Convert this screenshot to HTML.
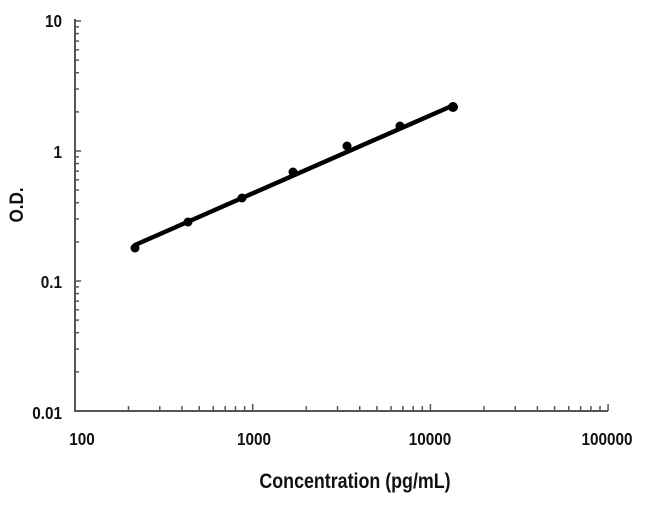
<!DOCTYPE html>
<html><head><meta charset="utf-8"><style>
html,body{margin:0;padding:0;background:#fff;width:650px;height:507px;overflow:hidden}
text{font-family:"Liberation Sans",Arial,sans-serif;font-weight:bold;fill:#111}
</style></head><body>
<svg id="s" width="650" height="507" viewBox="0 0 650 507" xmlns="http://www.w3.org/2000/svg">
<g stroke="#555" stroke-width="2" fill="none" id="ax">
<line x1="75" y1="19" x2="75" y2="411"/>
<line x1="74" y1="411" x2="608" y2="411"/>
</g>
<g id="tk" stroke="#555" stroke-width="1.5"></g>
<g font-size="18" text-anchor="end">
<text transform="translate(62,27) scale(0.85,1)">10</text>
<text transform="translate(62,158) scale(0.85,1)">1</text>
<text transform="translate(62,288) scale(0.85,1)">0.1</text>
<text transform="translate(62,419) scale(0.85,1)">0.01</text>
</g>
<g font-size="18" text-anchor="middle">
<text transform="translate(82,445) scale(0.85,1)">100</text>
<text transform="translate(254,445) scale(0.85,1)">1000</text>
<text transform="translate(430,445) scale(0.85,1)">10000</text>
<text transform="translate(607,445) scale(0.85,1)">100000</text>
</g>
<text transform="translate(355,488) scale(0.85,1)" font-size="21" text-anchor="middle">Concentration (pg/mL)</text>
<text transform="translate(23,205) rotate(-90) scale(0.9,1)" font-size="19" text-anchor="middle">O.D.</text>
<line x1="135" y1="245" x2="454" y2="105" stroke="#000" stroke-width="4.5" stroke-linecap="round"/>
<g fill="#000">
<circle cx="135" cy="248" r="4.5"/><circle cx="188" cy="222" r="4.5"/><circle cx="242" cy="198" r="4.5"/>
<circle cx="293" cy="172" r="4.5"/><circle cx="347" cy="146" r="4.5"/><circle cx="400" cy="126" r="4.5"/>
<circle cx="453" cy="107" r="5"/>
</g>
</svg>
<script>
var g=document.getElementById('tk'),h='';
for(var d=0;d<3;d++){for(var k=2;k<=10;k++){var y=411-130*(d+Math.log10(k));var L=k==10?6:4;h+='<line x1="75" y1="'+y.toFixed(1)+'" x2="'+(75+L)+'" y2="'+y.toFixed(1)+'"/>';}}
for(var d=0;d<3;d++){for(var k=2;k<=10;k++){var x=75+177.7*(d+Math.log10(k));var L=k==10?7:5;h+='<line x1="'+x.toFixed(1)+'" y1="411" x2="'+x.toFixed(1)+'" y2="'+(411-L)+'"/>';}}
g.innerHTML=h;
</script>
</body></html>
